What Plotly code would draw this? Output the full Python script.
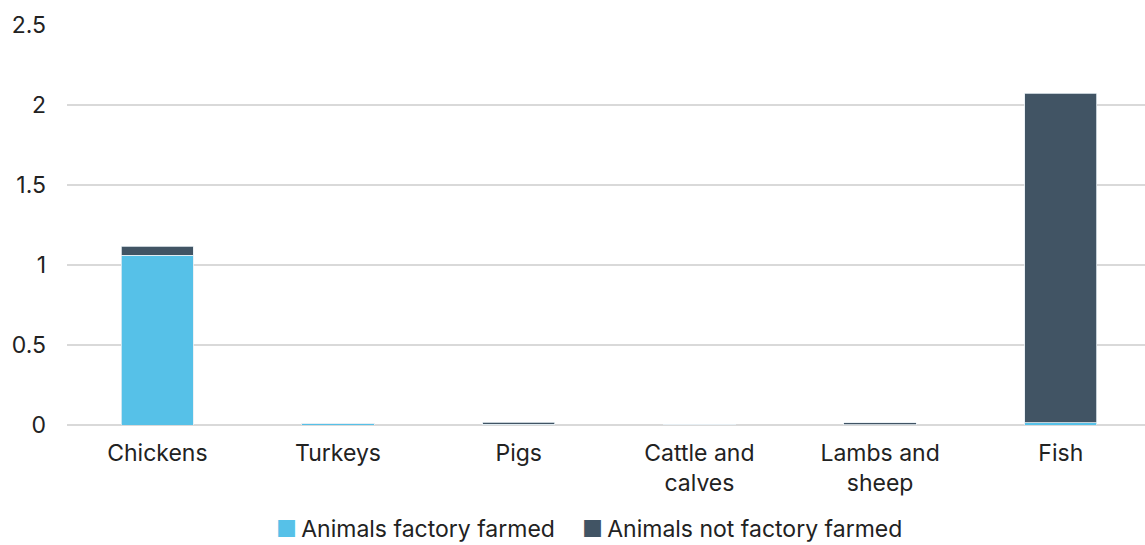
import plotly.graph_objects as go

categories = ["Chickens", "Turkeys", "Pigs", "Cattle and<br>calves", "Lambs and<br>sheep", "Fish"]
factory_farmed = [1.062, 0.010, 0.004, 0.001, 0.001, 0.015]
not_factory_farmed = [0.055, 0.002, 0.012, 0.001, 0.014, 2.06]
series_names = ["Animals factory farmed", "Animals not factory farmed"]
series_colors = ["#56C1E8", "#415464"]
y_ticks = [0, 0.5, 1, 1.5, 2, 2.5]
y_tick_labels = ["0", "0.5", "1", "1.5", "2", "2.5"]

FONT = "Inter, Roboto, Arial, sans-serif"
TEXT = "#222222"

fig = go.Figure()
for vals, name, color in zip([factory_farmed, not_factory_farmed], series_names, series_colors):
    fig.add_trace(go.Bar(
        x=categories, y=vals, name=name, showlegend=False,
        marker=dict(color=color, line=dict(color="#e6eef2", width=0.8)),
        width=0.40,
    ))

# key below the chart: coloured square glyph + series name
key_x = [0.193, 0.4768]
for name, color, kx in zip(series_names, series_colors, key_x):
    fig.add_annotation(
        xref="paper", yref="paper", x=kx, y=-0.26, xanchor="left", yanchor="middle",
        text=f'<span style="color:{color}">\u25A0</span>\u2009{name}',
        showarrow=False, borderpad=0, font=dict(size=23, color=TEXT, family=FONT),
    )

fig.update_layout(
    barmode="stack",
    width=1145, height=545,
    margin=dict(l=67, r=0, t=25, b=120, autoexpand=False),
    paper_bgcolor="white", plot_bgcolor="white",
    font=dict(family=FONT, size=23, color=TEXT),
    showlegend=False,
)
fig.update_xaxes(
    range=[-0.5, 5.466], showgrid=False, showline=False, ticks="",
    ticklabelstandoff=12, automargin=False,
    tickfont=dict(size=23, color=TEXT),
)
fig.update_yaxes(
    range=[0, 2.5], tickvals=y_ticks, ticktext=y_tick_labels,
    showgrid=True, gridcolor="#d9d9d9", gridwidth=2,
    zeroline=True, zerolinecolor="#d9d9d9", zerolinewidth=2,
    showline=False, ticks="", ticklabelstandoff=20, automargin=False,
    tickfont=dict(size=23, color=TEXT),
)

fig.write_html("out.html")
